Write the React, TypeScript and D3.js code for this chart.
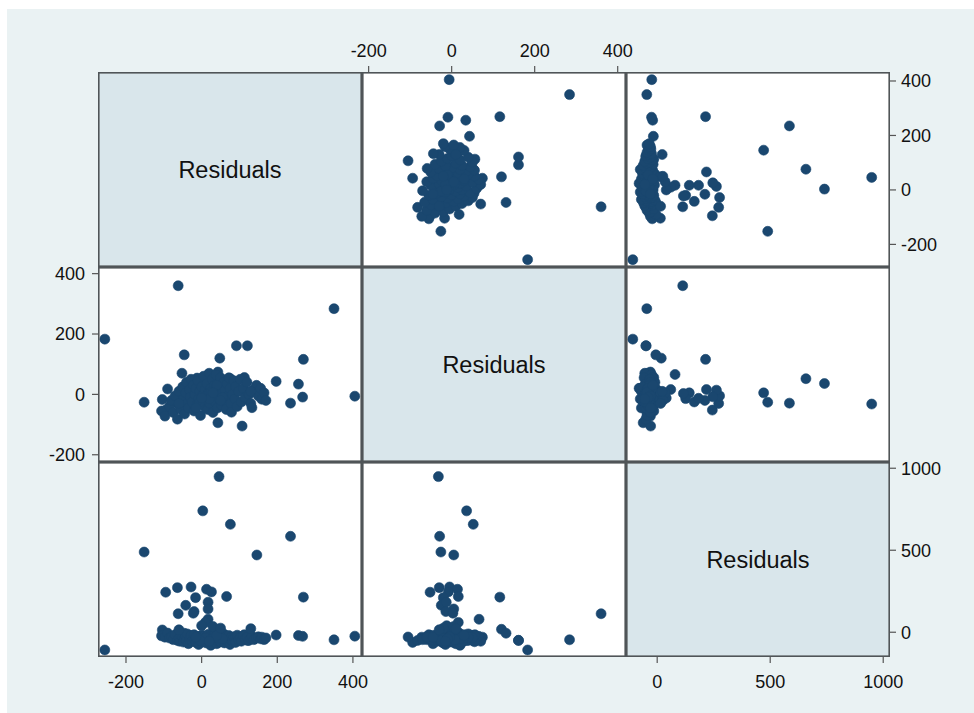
import React from "react";
import * as d3 from "d3";

// ---- Data (one observation per index) ----
const v1: number[] = [
  46, 3, 76, 235, -152, 146, 269, -62, -256, 350, 405,
  43, 107, 48, -46, 92, 121, 197, 256, 267, 113, 43, -12, -52,
  -95, -64, -28, 13, 26, 66, -16, -42, 17, 17, -20, -22, 17, 10,
  -104, -106, -97, -90, -85, -80, -75, -70, -64, -60, -58, -55, -50, -48, -45, -42, -40, -38, -35, -32,
  -30, -28, -25, -22, -20, -18, -15, -12, -10, -8, -5, -3, 0, 2, 5, 7, 9, 12, 14, 16,
  18, 20, 22, 24, 26, 28, 30, 32, 34, 36, 38, 40, 42, 45, 48, 50, 52, 55, 58, 60,
  62, 65, 68, 70, 72, 75, 78, 79, 82, 85, 88, 90, 94, 98, 102, 105, 110, 115, 120, 125,
  130, 133, 138, 145, 150, 156, 159, 165, 170,
  10, 25, 35, -5, 55, 40, -15, 20, 0, 30, 50, 130, -60,
];
const v2: number[] = [
  -32, 36, 52, -29, -26, 5, 116, 360, 183, 284, -6,
  -94, -105, 120, 131, 161, 161, 43, 34, -9, 56, 74, 54, 70,
  -52, -30, -5, 14, -8, 16, -20, -25, -13, 5, -14, 3, 66, 16,
  -17, -55, -72, 18, -40, -20, -60, -5, -82, 10, -35, -50, 25, -15, -65, 5, 40, -30, -45, 15,
  -10, 50, -25, 30, -55, 0, 20, -35, 45, -15, 10, -70, 25, -5, 60, -40, 15, -20, 35, -50,
  5, 70, -30, 20, -10, 50, -60, 0, 30, -25, 65, 10, -45, 25, -15, 55, -35, 5, 40, -20,
  15, -50, 35, -5, 55, 20, -30, -59, 0, 45, -15, 25, -40, 10, 50, -25, 20, -10, 40, 0,
  -30, -44, 15, 30, -5, 20, -16, 5, -20,
  -8, 8, -5, -25, -10, 30, -45, -15, -12, 5, -20, 10, -30,
];
const v3: number[] = [
  949, 740, 658, 585, 489, 471, 214, 113, -108, -46, -24,
  -62, -29, 18, -6, -49, -50, -17, -20, -25, -15, -30, -38, -44,
  244, 272, 276, 262, 246, 218, 211, 164, 183, 142, 126, 116, 79, 60,
  14, -22, -30, -5, -35, -28, -45, -15, -50, -40, -55, -20, -30, -60, -35, -25, -50, -10, -70, -45,
  -30, -20, -55, -38, -15, -48, -62, -25, -40, -75, -30, -45, -18, -58, -35, -22, -50, -65, -28, -40,
  -12, -55, -35, -80, -25, -48, -30, -60, -15, -42, -25, -70, -50, -35, -20, -58, -45, -30, -10, -65,
  -40, -25, -50, -35, -20, -75, -45, -30, -55, -28, -40, -62, -18, -48, -33, -55, -22, -42, -30, -50,
  -38, -25, -45, -35, -28, -40, -30, -45, -35,
  -35, -45, -30, -50, -40, -20, -30, -55, 40, 35, 25, 22, 15,
];

const varNames: string[] = ["Residuals", "Residuals", "Residuals"];
const ticksV1: number[] = [-200, 0, 200, 400];
const ticksV2: number[] = [-200, 0, 200, 400];
const ticksV3: number[] = [0, 500, 1000];

// scale domains (axis ranges) for each variable
const xDomains: [number, number][] = [[-274, 424], [-216, 420], [-138, 1030]];
const yDomains: [number, number][] = [[-283, 433], [-224, 422], [-151, 1038]];

const W = 974;
const H = 713;
const X0 = 98;
const Y0 = 72;
const CW = 264;
const CH = 195;

const BG = "#eaf2f3";
const DIAG = "#d9e6eb";
const MARK = "#1a476f";
const BORDER = "#505558";
const FONT = "'Liberation Sans', Arial, Helvetica, sans-serif";

export default function App() {
  const vars = [v1, v2, v3];
  const ticks = [ticksV1, ticksV2, ticksV3];
  const n = 3;

  const xScales = xDomains.map((d, j) =>
    d3.scaleLinear().domain(d).range([X0 + j * CW, X0 + (j + 1) * CW])
  );
  const yScales = yDomains.map((d, i) =>
    d3.scaleLinear().domain(d).range([Y0 + (i + 1) * CH, Y0 + i * CH])
  );

  const cells: React.ReactNode[] = [];
  for (let i = 0; i < n; i++) {
    for (let j = 0; j < n; j++) {
      const x = X0 + j * CW;
      const y = Y0 + i * CH;
      if (i === j) {
        cells.push(
          <g key={`c${i}${j}`}>
            <rect x={x} y={y} width={CW} height={CH} fill={DIAG} />
            <text
              x={x + CW / 2}
              y={y + CH / 2}
              dy="0.36em"
              textAnchor="middle"
              fontFamily={FONT}
              fontSize={23.5}
              fill="#111"
            >
              {varNames[i]}
            </text>
          </g>
        );
      } else {
        const xs = xScales[j];
        const ys = yScales[i];
        const xv = vars[j];
        const yv = vars[i];
        cells.push(
          <g key={`c${i}${j}`}>
            <rect x={x} y={y} width={CW} height={CH} fill="#fff" />
            <g>
              {xv.map((val, k) => (
                <circle
                  key={k}
                  cx={xs(val)}
                  cy={ys(yv[k])}
                  r={5.0}
                  fill={MARK}
                  stroke={MARK}
                  strokeWidth={0.6}
                />
              ))}
            </g>
          </g>
        );
      }
    }
  }

  const borders: React.ReactNode[] = [];
  for (let i = 0; i < n; i++) {
    for (let j = 0; j < n; j++) {
      borders.push(
        <rect
          key={`b${i}${j}`}
          x={X0 + j * CW + 0.8}
          y={Y0 + i * CH + 0.8}
          width={CW - 1.6}
          height={CH - 1.6}
          fill="none"
          stroke={BORDER}
          strokeWidth={1.6}
        />
      );
    }
  }

  // Axes: x axes alternate bottom/top/bottom, y axes alternate right/left/right
  const axes: React.ReactNode[] = [];
  const tickColor = "#555";
  const labelStyle = { fontFamily: FONT, fontSize: 18, fill: "#111" };
  for (let j = 0; j < n; j++) {
    const xs = xScales[j];
    const top = j % 2 === 1;
    const yEdge = top ? Y0 : Y0 + n * CH;
    ticks[j].forEach((t) => {
      const px = xs(t);
      axes.push(
        <g key={`xt${j}${t}`}>
          <line
            x1={px}
            x2={px}
            y1={yEdge}
            y2={top ? yEdge - 6 : yEdge + 6}
            stroke={tickColor}
            strokeWidth={1.2}
          />
          <text
            x={px}
            y={top ? yEdge - 15 : yEdge + 31}
            textAnchor="middle"
            {...labelStyle}
          >
            {t}
          </text>
        </g>
      );
    });
  }
  for (let i = 0; i < n; i++) {
    const ys = yScales[i];
    const right = i % 2 === 0;
    const xEdge = right ? X0 + n * CW : X0;
    ticks[i].forEach((t) => {
      const py = ys(t);
      axes.push(
        <g key={`yt${i}${t}`}>
          <line
            x1={xEdge}
            x2={right ? xEdge + 6 : xEdge - 6}
            y1={py}
            y2={py}
            stroke={tickColor}
            strokeWidth={1.2}
          />
          <text
            x={right ? xEdge + 11 : xEdge - 13}
            y={py}
            dy="0.35em"
            textAnchor={right ? "start" : "end"}
            {...labelStyle}
          >
            {t}
          </text>
        </g>
      );
    });
  }

  return (
    <svg
      width={W}
      height={H}
      style={{ position: "absolute", left: 0, top: 0 }}
      xmlns="http://www.w3.org/2000/svg"
    >
      <rect x={0} y={0} width={W} height={H} fill="#fff" />
      <rect x={7} y={9} width={W - 7} height={H - 9} fill={BG} />
      {cells}
      {borders}
      {axes}
    </svg>
  );
}
